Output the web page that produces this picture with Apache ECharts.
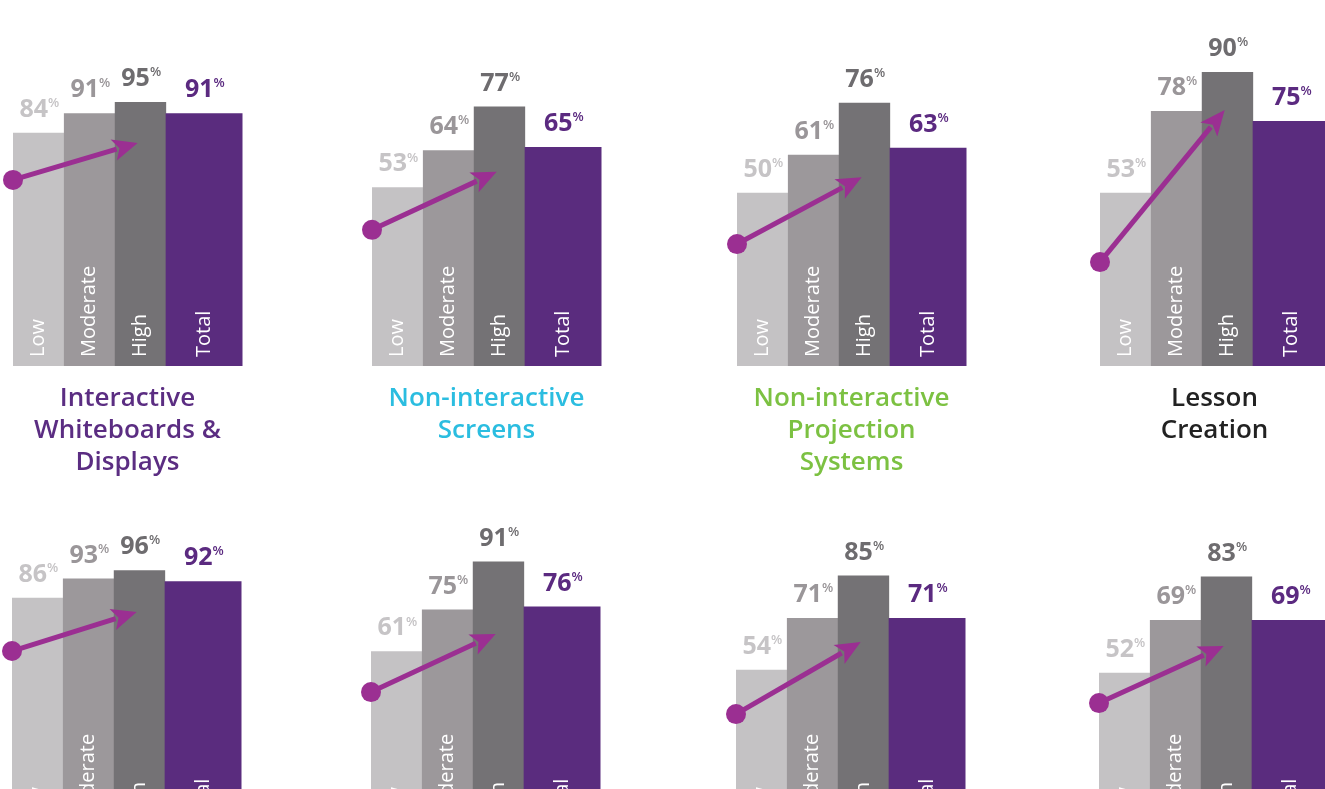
<!DOCTYPE html>
<html>
<head>
<meta charset="utf-8">
<script src="https://cdn.jsdelivr.net/npm/echarts@6/dist/echarts.min.js"></script>
<style>
html,body{margin:0;padding:0;overflow:hidden;background:#fff;}
#chart{width:1360px;height:900px;}
</style>
</head>
<body>
<div id="chart"></div>
<script>
// ---- data ----
const categories = ['Low', 'Moderate', 'High', 'Total'];
const panelTitles = [
  'Interactive\nWhiteboards &\nDisplays',
  'Non-interactive\nScreens',
  'Non-interactive\nProjection\nSystems',
  'Lesson\nCreation',
  '', '', '', ''
];
const whiteboards   = [84, 91, 95, 91];
const screens       = [53, 64, 77, 65];
const projection    = [50, 61, 76, 63];
const lessonCreation = [53, 78, 90, 75];
const panel5 = [86, 93, 96, 92];
const panel6 = [61, 75, 91, 76];
const panel7 = [54, 71, 85, 71];
const panel8 = [52, 69, 83, 69];
const arrowFrom = [67, 40.4, 35.2, 31.8, 66.6, 47.4, 39.4, 42.2];
const arrowTo   = [80.3, 57.6, 54.5, 78.3, 80.8, 66.8, 63.1, 60.6];

const panelValues = [whiteboards, screens, projection, lessonCreation, panel5, panel6, panel7, panel8];

// ---- layout / style ----
const axisMax = [108, 89, 86.6, 91.8, 109.2, 100.2, 98.6, 96.7];
const gridLeft = [13, 372, 737, 1100, 12, 371, 736, 1099];
const rowBase = [366, 834];
const plotH = 300, plotW = 229;
const barColors = ['#c4c2c4', '#9c989b', '#747275', '#5a2c7e'];
const labelColors = ['#c6c4c6', '#9a9699', '#6e6c6f', '#5b2a80'];
const titleColors = ['#5b2d82', '#2bbde0', '#7cc142', '#222222'];
const arrowColor = '#9b2f92';
const FONT = '"Open Sans", sans-serif';

const grids = [], xAxes = [], yAxes = [], series = [], titles = [];

function renderBar(params, api) {
  const i = api.value(0), v = api.value(1);
  const x0 = i, x1 = (i === 3) ? 4.5 : i + 1;
  const pBase = api.coord([x0, 0]);
  const pTop = api.coord([x1, v]);
  const left = pBase[0], right = pTop[0];
  const cx = (left + right) / 2;
  return {
    type: 'group',
    children: [
      { type: 'rect', shape: { x: left, y: pTop[1], width: right - left + 0.5, height: pBase[1] - pTop[1] },
        style: { fill: barColors[i] } },
      { type: 'text', x: cx + 1, y: pTop[1] - 10,
        style: { text: '{v|' + v + '}{p|%}', align: 'center', verticalAlign: 'bottom',
          rich: {
            v: { fontFamily: FONT, fontSize: 25, fontWeight: 700, fill: labelColors[i], lineHeight: 26 },
            p: { fontFamily: FONT, fontSize: 13, fontWeight: 600, fill: labelColors[i], lineHeight: 16, verticalAlign: 'top' }
          } } },
      { type: 'text', x: cx, y: pBase[1] - 9, rotation: Math.PI / 2,
        style: { text: categories[i], align: 'left', verticalAlign: 'middle',
          fontFamily: FONT, fontSize: 20, fontWeight: 400, fill: '#ffffff' } }
    ]
  };
}

function renderArrow(params, api) {
  const s = api.coord([0, api.value(0)]);
  const e = api.coord([2.45, api.value(1)]);
  const ang = Math.atan2(e[1] - s[1], e[0] - s[0]);
  const headL = 25, headW = 11;
  const bx = e[0] - headL * Math.cos(ang), by = e[1] - headL * Math.sin(ang);
  const nx = -Math.sin(ang), ny = Math.cos(ang);
  return {
    type: 'group',
    children: [
      { type: 'line', shape: { x1: s[0], y1: s[1], x2: bx + 3 * Math.cos(ang), y2: by + 3 * Math.sin(ang) },
        style: { stroke: arrowColor, lineWidth: 5 } },
      { type: 'polygon', shape: { points: [[e[0], e[1]], [bx + nx * headW, by + ny * headW], [bx + 6 * Math.cos(ang), by + 6 * Math.sin(ang)], [bx - nx * headW, by - ny * headW]] },
        style: { fill: arrowColor } },
      { type: 'circle', shape: { cx: s[0], cy: s[1], r: 10 }, style: { fill: arrowColor } }
    ]
  };
}

panelValues.forEach((vals, k) => {
  const row = k < 4 ? 0 : 1;
  grids.push({ left: gridLeft[k], top: rowBase[row] - plotH, width: plotW, height: plotH, containLabel: false });
  xAxes.push({ gridIndex: k, type: 'value', min: 0, max: 4.5, show: false });
  yAxes.push({ gridIndex: k, type: 'value', min: 0, max: axisMax[k], show: false });
  series.push({
    type: 'custom', xAxisIndex: k, yAxisIndex: k, clip: false,
    renderItem: renderBar,
    data: vals.map((v, i) => [i, v])
  });
  series.push({
    type: 'custom', xAxisIndex: k, yAxisIndex: k, clip: false, z: 5,
    renderItem: renderArrow,
    data: [[arrowFrom[k], arrowTo[k]]]
  });
  if (panelTitles[k]) {
    titles.push({
      text: panelTitles[k], left: gridLeft[k] + plotW / 2, top: 383, padding: 0, textAlign: 'center',
      textStyle: { fontFamily: FONT, fontSize: 26, fontWeight: 600, lineHeight: 32, color: titleColors[k] }
    });
  }
});

const chart = echarts.init(document.getElementById('chart'), null, { renderer: 'canvas' });
chart.setOption({
  animation: false,
  title: titles,
  grid: grids,
  xAxis: xAxes,
  yAxis: yAxes,
  series: series
});
</script>
</body>
</html>
